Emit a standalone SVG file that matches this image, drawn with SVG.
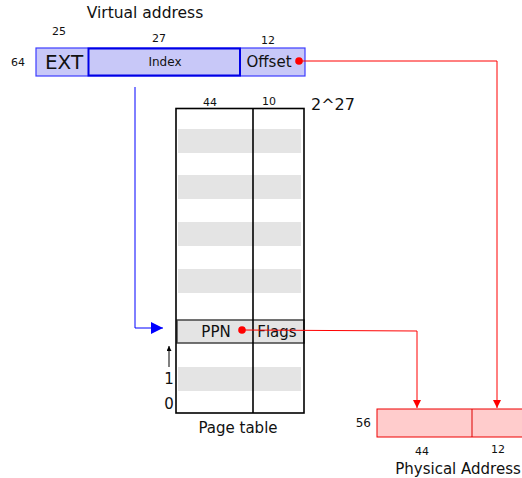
<svg xmlns="http://www.w3.org/2000/svg" width="522" height="478" viewBox="0 0 522 478">
<defs>
<style>
text{font-family:"DejaVu Sans","Liberation Sans",sans-serif;fill:#111}
.s{font-size:11px}
.stripe{fill:#e4e4e4}
.red{stroke:#f00;stroke-width:1;fill:none}
</style>
<marker id="ar" viewBox="0 0 10 10" refX="10" refY="5" markerWidth="8" markerHeight="10" markerUnits="userSpaceOnUse" orient="auto"><path d="M0,0 L10,5 L0,10 Z" fill="#f00"/></marker>
<marker id="ab" viewBox="0 0 10 10" refX="10" refY="5" markerWidth="15" markerHeight="12" markerUnits="userSpaceOnUse" orient="auto"><path d="M0,0 L10,5 L0,10 Z" fill="#00f"/></marker>
<marker id="ak" viewBox="0 0 10 10" refX="10" refY="5" markerWidth="8" markerHeight="5" markerUnits="userSpaceOnUse" orient="auto"><path d="M0,0 L10,5 L0,10 Z" fill="#000"/></marker>
</defs>
<rect width="522" height="478" fill="#fff"/>
<g id="virtual-address">
<text x="145" y="18" text-anchor="middle" font-size="15.5">Virtual address</text>
<text x="59" y="35" class="s" text-anchor="middle">25</text>
<text x="159" y="42" class="s" text-anchor="middle">27</text>
<text x="268" y="44" class="s" text-anchor="middle">12</text>
<text x="25" y="66" class="s" text-anchor="end" font-size="12">64</text>
<rect x="36" y="48" width="269" height="28" fill="#c8c8f8" stroke="#3c3cff" stroke-width="1.2"/>
<rect x="88.5" y="48.5" width="151.5" height="27" fill="#c8c8f8" stroke="#0000e6" stroke-width="2"/>
<text x="64" y="69" text-anchor="middle" font-size="20">EXT</text>
<text x="165" y="66" text-anchor="middle" font-size="12">Index</text>
<text x="269" y="67" text-anchor="middle" font-size="15">Offset</text>
</g>
<g id="page-table">
<text x="210" y="106" class="s" text-anchor="middle">44</text>
<text x="269" y="105" class="s" text-anchor="middle">10</text>
<text x="333" y="110" text-anchor="middle" font-size="16">2^27</text>
<rect x="178" y="129" width="123" height="24" class="stripe"/>
<rect x="178" y="175" width="123" height="24" class="stripe"/>
<rect x="178" y="222" width="123" height="24" class="stripe"/>
<rect x="178" y="269" width="123" height="24" class="stripe"/>
<rect x="178" y="367" width="123" height="24" class="stripe"/>
<rect x="177" y="320" width="127" height="23" fill="#e4e4e4" stroke="#444" stroke-width="1.5"/>
<rect x="176" y="108.5" width="128" height="304.5" fill="none" stroke="#000" stroke-width="1.6"/>
<line x1="253" y1="108" x2="253" y2="413" stroke="#000" stroke-width="1.6"/>
<text x="216" y="337" text-anchor="middle" font-size="15">PPN</text>
<text x="277" y="337" text-anchor="middle" font-size="15">Flags</text>
<text x="169" y="384" text-anchor="middle" font-size="15">1</text>
<text x="169" y="409" text-anchor="middle" font-size="15">0</text>
<text x="238" y="433" text-anchor="middle" font-size="15">Page table</text>
</g>
<g id="physical-address">
<text x="371" y="427" text-anchor="end" font-size="12">56</text>
<rect x="377" y="409" width="150" height="28" fill="#ffcccc" stroke="#e00" stroke-width="1"/>
<line x1="472" y1="409" x2="472" y2="437" stroke="#d00" stroke-width="1"/>
<text x="422" y="455" class="s" text-anchor="middle">44</text>
<text x="498" y="453" class="s" text-anchor="middle">12</text>
<text x="458" y="474" text-anchor="middle" font-size="15">Physical Address</text>
</g>
<g id="connectors">
<path d="M135,87 V328 H163" fill="none" stroke="#00f" stroke-width="1" marker-end="url(#ab)"/>
<path d="M299,61 H497 V408" class="red" marker-end="url(#ar)"/>
<circle cx="299" cy="61" r="3.8" fill="#f00"/>
<path d="M242,330 L417,331 V408" class="red" marker-end="url(#ar)"/>
<circle cx="242" cy="330" r="3.8" fill="#f00"/>
<line x1="169" y1="367" x2="169" y2="346" stroke="#000" stroke-width="1" marker-end="url(#ak)"/>
</g>
</svg>
